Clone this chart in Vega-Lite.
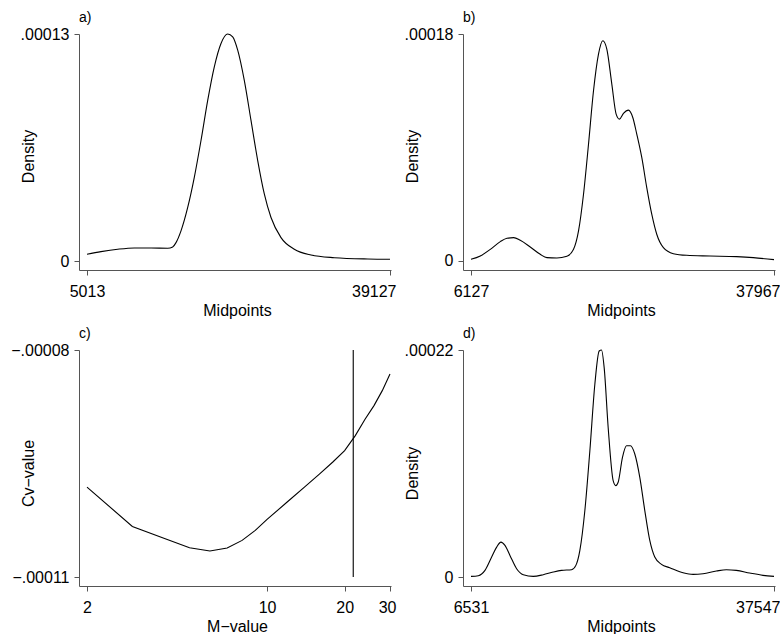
{
  "$schema": "https://vega.github.io/schema/vega-lite/v6.json",
  "padding": {"left": 10, "top": 11, "right": 0, "bottom": 0},
  "background": "white",
  "config": {
    "font": "Liberation Sans",
    "view": {"stroke": null},
    "axis": {
      "grid": false,
      "domainColor": "#555555",
      "tickColor": "#555555",
      "domainWidth": 1,
      "tickWidth": 1,
      "tickSize": 5,
      "labelFontSize": 16,
      "titleFontSize": 16,
      "titleFontWeight": "normal",
      "labelColor": "#000000",
      "titleColor": "#000000",
      "labelOverlap": false
    },
    "axisX": {"labelPadding": 8, "labelFlush": 5, "labelFlushOffset": 6, "titleX": 158, "titleY": 45, "titleBaseline": "alphabetic", "titleAlign": "center"},
    "axisY": {"labelPadding": 5, "labelFlush": false, "titleX": -51, "titleY": 122, "titleBaseline": "middle", "titleAlign": "center", "titleAngle": 270},
    "title": {"fontSize": 14, "fontWeight": "normal", "anchor": "start", "frame": "group", "offset": 1, "baseline": "alphabetic", "color": "#000000"}
  },
  "datasets": {
    "a": [
      {"midpoint": 5013, "density": 3.85e-6},
      {"midpoint": 6589, "density": 5.35e-6},
      {"midpoint": 8470, "density": 6.73e-6},
      {"midpoint": 10338, "density": 7.48e-6},
      {"midpoint": 12219, "density": 7.48e-6},
      {"midpoint": 14099, "density": 7.31e-6},
      {"midpoint": 14662, "density": 8.05e-6},
      {"midpoint": 15034, "density": 1.053e-5},
      {"midpoint": 15596, "density": 1.726e-5},
      {"midpoint": 16351, "density": 3.066e-5},
      {"midpoint": 17094, "density": 4.79e-5},
      {"midpoint": 17848, "density": 6.90e-5},
      {"midpoint": 18603, "density": 9.20e-5},
      {"midpoint": 19346, "density": 1.112e-4},
      {"midpoint": 20100, "density": 1.246e-4},
      {"midpoint": 20854, "density": 1.30e-4},
      {"midpoint": 21417, "density": 1.284e-4},
      {"midpoint": 21980, "density": 1.208e-4},
      {"midpoint": 22723, "density": 1.035e-4},
      {"midpoint": 23478, "density": 8.05e-5},
      {"midpoint": 24232, "density": 5.75e-5},
      {"midpoint": 24975, "density": 3.84e-5},
      {"midpoint": 25730, "density": 2.49e-5},
      {"midpoint": 26855, "density": 1.34e-5},
      {"midpoint": 28353, "density": 6.73e-6},
      {"midpoint": 30233, "density": 3.45e-6},
      {"midpoint": 32857, "density": 1.90e-6},
      {"midpoint": 36618, "density": 1.15e-6},
      {"midpoint": 39127, "density": 9.8e-7}
    ],
    "b": [
      {"midpoint": 6127, "density": 1.32e-6},
      {"midpoint": 7106, "density": 3.97e-6},
      {"midpoint": 8156, "density": 9.26e-6},
      {"midpoint": 9205, "density": 1.535e-5},
      {"midpoint": 9905, "density": 1.80e-5},
      {"midpoint": 10604, "density": 1.853e-5},
      {"midpoint": 11304, "density": 1.641e-5},
      {"midpoint": 12353, "density": 1.112e-5},
      {"midpoint": 13403, "density": 5.29e-6},
      {"midpoint": 14102, "density": 2.65e-6},
      {"midpoint": 15152, "density": 2.38e-6},
      {"midpoint": 16201, "density": 3.71e-6},
      {"midpoint": 16901, "density": 9.26e-6},
      {"midpoint": 17426, "density": 2.382e-5},
      {"midpoint": 17950, "density": 5.29e-5},
      {"midpoint": 18475, "density": 9.26e-5},
      {"midpoint": 19000, "density": 1.350e-4},
      {"midpoint": 19524, "density": 1.641e-4},
      {"midpoint": 19979, "density": 1.747e-4},
      {"midpoint": 20399, "density": 1.681e-4},
      {"midpoint": 20924, "density": 1.403e-4},
      {"midpoint": 21378, "density": 1.165e-4},
      {"midpoint": 21728, "density": 1.125e-4},
      {"midpoint": 22148, "density": 1.170e-4},
      {"midpoint": 22673, "density": 1.196e-4},
      {"midpoint": 23127, "density": 1.138e-4},
      {"midpoint": 23547, "density": 1.006e-4},
      {"midpoint": 24072, "density": 8.21e-5},
      {"midpoint": 24596, "density": 5.82e-5},
      {"midpoint": 25121, "density": 3.71e-5},
      {"midpoint": 25646, "density": 2.12e-5},
      {"midpoint": 26345, "density": 1.059e-5},
      {"midpoint": 27395, "density": 5.82e-6},
      {"midpoint": 28794, "density": 4.50e-6},
      {"midpoint": 31243, "density": 3.97e-6},
      {"midpoint": 34041, "density": 3.44e-6},
      {"midpoint": 35790, "density": 2.65e-6},
      {"midpoint": 37967, "density": 1.06e-6}
    ],
    "c": [
      {"m": 2, "cv": -9.812e-5},
      {"m": 3, "cv": -1.0332e-4},
      {"m": 4, "cv": -1.0490e-4},
      {"m": 5, "cv": -1.0613e-4},
      {"m": 6, "cv": -1.0657e-4},
      {"m": 7, "cv": -1.0617e-4},
      {"m": 8, "cv": -1.0516e-4},
      {"m": 9, "cv": -1.0384e-4},
      {"m": 10, "cv": -1.0239e-4},
      {"m": 12, "cv": -1.0006e-4},
      {"m": 14, "cv": -9.808e-5},
      {"m": 16, "cv": -9.636e-5},
      {"m": 18, "cv": -9.480e-5},
      {"m": 20, "cv": -9.330e-5},
      {"m": 22, "cv": -9.131e-5},
      {"m": 24, "cv": -8.915e-5},
      {"m": 26, "cv": -8.735e-5},
      {"m": 28, "cv": -8.537e-5},
      {"m": 30, "cv": -8.317e-5}
    ],
    "cmark": [
      {"m": 21.6, "cv": -0.00008, "cv2": -0.00011}
    ],
    "d": [
      {"midpoint": 6531, "density": 6.4e-7},
      {"midpoint": 7281, "density": 1.29e-6},
      {"midpoint": 7962, "density": 6.44e-6},
      {"midpoint": 8644, "density": 1.933e-5},
      {"midpoint": 9155, "density": 2.899e-5},
      {"midpoint": 9598, "density": 3.382e-5},
      {"midpoint": 10007, "density": 3.060e-5},
      {"midpoint": 10518, "density": 2.094e-5},
      {"midpoint": 11200, "density": 8.05e-6},
      {"midpoint": 11882, "density": 2.25e-6},
      {"midpoint": 12904, "density": 6.4e-7},
      {"midpoint": 13926, "density": 2.25e-6},
      {"midpoint": 14949, "density": 4.83e-6},
      {"midpoint": 15801, "density": 6.44e-6},
      {"midpoint": 16823, "density": 7.09e-6},
      {"midpoint": 17266, "density": 1.127e-5},
      {"midpoint": 17675, "density": 2.577e-5},
      {"midpoint": 18186, "density": 6.44e-5},
      {"midpoint": 18698, "density": 1.224e-4},
      {"midpoint": 19209, "density": 1.868e-4},
      {"midpoint": 19652, "density": 2.190e-4},
      {"midpoint": 19890, "density": 2.20e-4},
      {"midpoint": 20163, "density": 2.029e-4},
      {"midpoint": 20572, "density": 1.449e-4},
      {"midpoint": 21083, "density": 9.34e-5},
      {"midpoint": 21356, "density": 8.86e-5},
      {"midpoint": 21594, "density": 9.18e-5},
      {"midpoint": 22037, "density": 1.160e-4},
      {"midpoint": 22446, "density": 1.272e-4},
      {"midpoint": 22855, "density": 1.272e-4},
      {"midpoint": 23298, "density": 1.192e-4},
      {"midpoint": 23810, "density": 9.66e-5},
      {"midpoint": 24321, "density": 6.44e-5},
      {"midpoint": 24832, "density": 3.543e-5},
      {"midpoint": 25343, "density": 1.933e-5},
      {"midpoint": 26025, "density": 1.224e-5},
      {"midpoint": 26877, "density": 9.02e-6},
      {"midpoint": 28240, "density": 4.19e-6},
      {"midpoint": 29262, "density": 2.58e-6},
      {"midpoint": 30285, "density": 3.22e-6},
      {"midpoint": 31648, "density": 5.80e-6},
      {"midpoint": 32670, "density": 7.09e-6},
      {"midpoint": 33693, "density": 6.44e-6},
      {"midpoint": 35056, "density": 3.87e-6},
      {"midpoint": 36419, "density": 1.61e-6},
      {"midpoint": 37547, "density": 6.4e-7}
    ]
  },
  "columns": 2,
  "bounds": "flush",
  "spacing": {"row": 80, "column": 72},
  "concat": [
    {
      "width": 312,
      "height": 236,
      "title": "a)",
      "data": {"name": "a"},
      "mark": {"type": "line", "interpolate": "monotone", "color": "#000000", "strokeWidth": 1.1},
      "encoding": {
        "x": {
          "field": "midpoint", "type": "quantitative",
          "scale": {"domain": [4112.3, 39239.6], "nice": false, "zero": false},
          "axis": {"values": [5013, 39127], "format": "d", "title": "Midpoints"}
        },
        "y": {
          "field": "density", "type": "quantitative",
          "scale": {"domain": [-0.000005154, 0.00013], "nice": false, "zero": false},
          "axis": {"values": [0, 0.00013], "labelExpr": "datum.value == 0 ? '0' : '.00013'", "title": "Density"}
        }
      }
    },
    {
      "width": 312,
      "height": 236,
      "title": "b)",
      "data": {"name": "b"},
      "mark": {"type": "line", "interpolate": "monotone", "color": "#000000", "strokeWidth": 1.1},
      "encoding": {
        "x": {
          "field": "midpoint", "type": "quantitative",
          "scale": {"domain": [5286.3, 38072.1], "nice": false, "zero": false},
          "axis": {"values": [6127, 37967], "format": "d", "title": "Midpoints"}
        },
        "y": {
          "field": "density", "type": "quantitative",
          "scale": {"domain": [-0.000007137, 0.00018], "nice": false, "zero": false},
          "axis": {"values": [0, 0.00018], "labelExpr": "datum.value == 0 ? '0' : '.00018'", "title": "Density"}
        }
      }
    },
    {
      "width": 312,
      "height": 236,
      "title": "c)",
      "layer": [
        {
          "data": {"name": "c"},
          "mark": {"type": "line", "color": "#000000", "strokeWidth": 1.1},
          "encoding": {
            "x": {
              "field": "m", "type": "quantitative",
              "scale": {"type": "log", "domain": [1.8621, 30.27], "nice": false, "zero": false},
              "axis": {"values": [2, 10, 20, 30], "format": "d", "title": "M−value"}
            },
            "y": {
              "field": "cv", "type": "quantitative",
              "scale": {"domain": [-0.0001111894, -0.00008], "nice": false, "zero": false},
              "axis": {"values": [-0.00011, -0.00008], "labelExpr": "datum.value < -0.0001 ? '−.00011' : '−.00008'", "title": "Cv−value", "titleY": 123}
            }
          }
        },
        {
          "data": {"name": "cmark"},
          "mark": {"type": "rule", "color": "#000000", "strokeWidth": 1.1},
          "encoding": {
            "x": {"field": "m", "type": "quantitative"},
            "y": {"field": "cv", "type": "quantitative"},
            "y2": {"field": "cv2"}
          }
        }
      ]
    },
    {
      "width": 312,
      "height": 236,
      "title": "d)",
      "data": {"name": "d"},
      "mark": {"type": "line", "interpolate": "monotone", "color": "#000000", "strokeWidth": 1.1},
      "encoding": {
        "x": {
          "field": "midpoint", "type": "quantitative",
          "scale": {"domain": [5712.1, 37649.4], "nice": false, "zero": false},
          "axis": {"values": [6531, 37547], "format": "d", "title": "Midpoints"}
        },
        "y": {
          "field": "density", "type": "quantitative",
          "scale": {"domain": [-0.000008722, 0.00022], "nice": false, "zero": false},
          "axis": {"values": [0, 0.00022], "labelExpr": "datum.value == 0 ? '0' : '.00022'", "title": "Density", "titleY": 123}
        }
      }
    }
  ]
}
